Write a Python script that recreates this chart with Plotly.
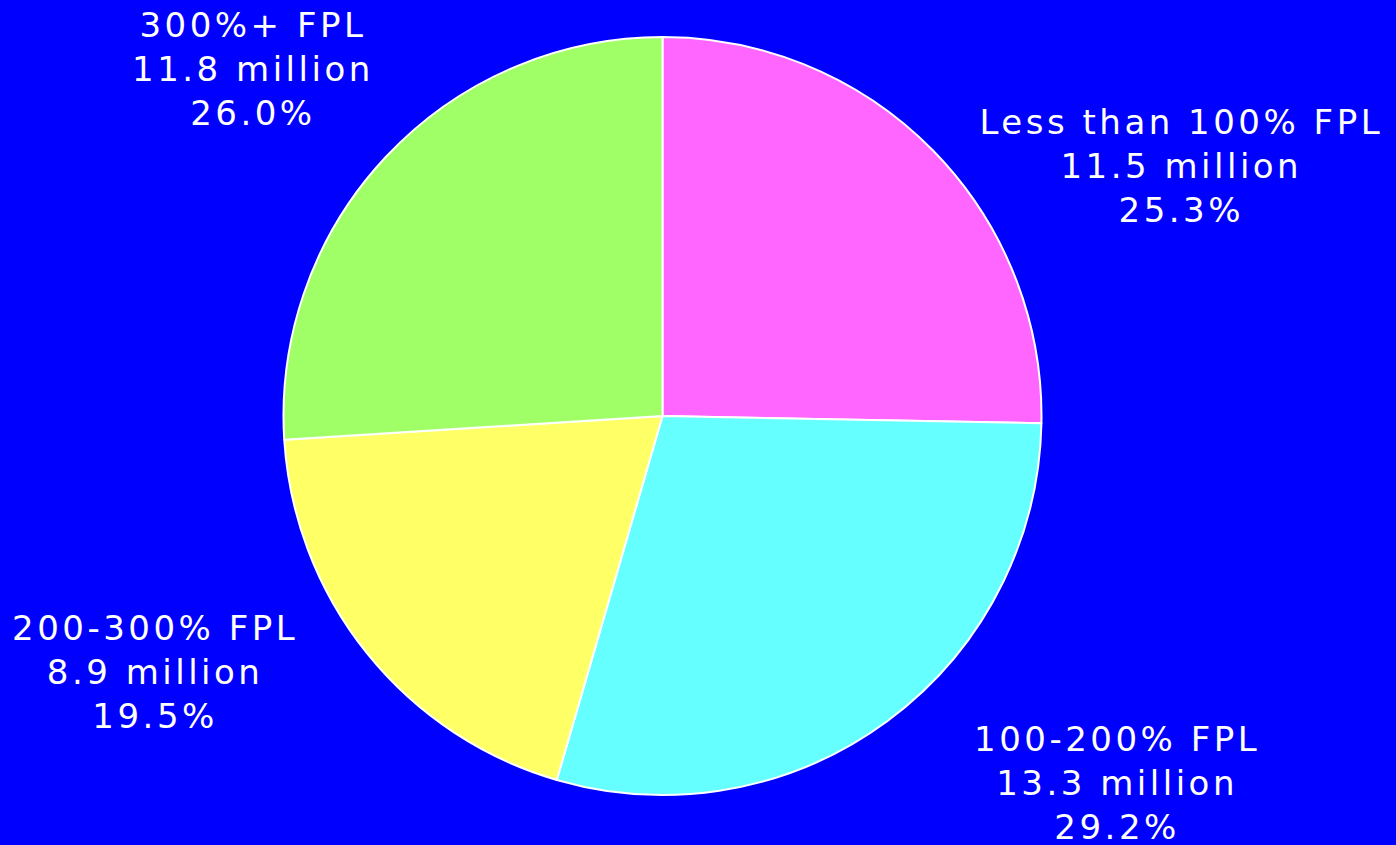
import plotly.graph_objects as go

categories = ["Less than 100% FPL", "100-200% FPL", "200-300% FPL", "300%+ FPL"]
millions = [11.5, 13.3, 8.9, 11.8]
percents = [25.3, 29.2, 19.5, 26.0]
colors = ["#FF66FF", "#66FFFF", "#FFFF66", "#A0FF66"]

# label anchor positions (paper coords)
label_x = [0.846, 0.800, 0.111, 0.181]
label_y = [0.8036, 0.0734, 0.2047, 0.918]

fig = go.Figure(go.Pie(
    labels=categories,
    values=percents,
    sort=False,
    direction="clockwise",
    rotation=0,
    marker=dict(colors=colors, line=dict(color="white", width=2)),
    textinfo="none",
    hoverinfo="label+percent",
    showlegend=False,
    domain=dict(x=[283/1396, 1042/1396], y=[1-795/845, 1-37/845]),
))

for cat, m, p, x, y in zip(categories, millions, percents, label_x, label_y):
    fig.add_annotation(
        x=x, y=y, xref="paper", yref="paper",
        text=f"{cat}<br>{m:.1f} million<br>{p:.1f}%",
        showarrow=False, xanchor="center", yanchor="middle",
        font=dict(family="DejaVu Sans", size=34, color="white"),
        align="center",
    )

fig.update_layout(
    width=1396, height=845,
    margin=dict(l=0, r=0, t=0, b=0),
    paper_bgcolor="#0000FF",
    plot_bgcolor="#0000FF",
)

post = """
var s = document.createElement('style');
s.textContent = 'body{margin:0;overflow:hidden;background:#0000FF}' +
  '.annotation-text{letter-spacing:3.5px;font-weight:300}';
document.head.appendChild(s);
"""

fig.write_html("out.html", post_script=post, config={"displayModeBar": False})
